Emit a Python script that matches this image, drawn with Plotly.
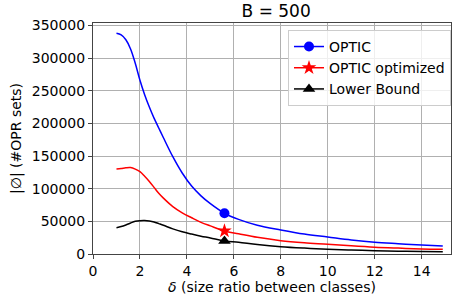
import plotly.graph_objects as go

delta = [1.0, 1.2, 1.4, 1.6, 1.8, 2.0, 2.2, 2.4, 2.6, 2.8, 3.0, 3.4, 3.8, 4.2, 4.6, 5.0,
         5.6, 6.2, 7.0, 8.0, 9.0, 10.0, 11.0, 12.0, 13.0, 14.0, 14.9]
optic = [338000, 335500, 328000, 314000, 292000, 266000, 244000, 225000, 208000, 193000,
         178000, 149000, 124000, 104000, 89000, 77000, 62400, 53000, 44000, 36800, 30500,
         26000, 21500, 18000, 15800, 13800, 12300]
optic_opt = [130300, 131000, 132000, 132300, 130000, 126000, 119000, 111000, 102000, 93000,
             85500, 72500, 63000, 55500, 48500, 43000, 35300, 31000, 25500, 20400, 17200,
             15000, 12500, 10400, 9000, 7800, 7200]
lower = [40300, 42000, 44500, 47500, 50000, 51000, 51200, 50500, 49000, 46500, 44000,
         38500, 34000, 30500, 27300, 24500, 20000, 17900, 14500, 11200, 9000, 7300, 6000,
         5100, 4300, 3800, 3500]
mark_idx = 16

series = [
    ("OPTIC", optic, "#0000ff", "circle", 10),
    ("OPTIC optimized", optic_opt, "#ff0000", "star", 11),
    ("Lower Bound", lower, "#000000", "triangle-up", 11),
]

fig = go.Figure()
for name, ys, col, sym, ms in series:
    fig.add_trace(go.Scatter(x=delta, y=ys, mode="lines", line=dict(color=col, width=1.5, shape="spline"),
                             showlegend=False, legendgroup=name, hoverinfo="skip"))
    fig.add_trace(go.Scatter(x=[delta[mark_idx]], y=[ys[mark_idx]], mode="lines+markers", name=name,
                             legendgroup=name, line=dict(color=col, width=1.5),
                             marker=dict(color=col, symbol=sym, size=ms)))

fig.update_layout(
    width=452, height=296,
    margin=dict(l=93, r=1, t=23, b=42, autoexpand=False),
    plot_bgcolor="white", paper_bgcolor="white",
    font=dict(family="DejaVu Sans", size=14, color="black"),
    title=dict(text="B = 500", x=0.611, xanchor="center", y=0.963, yanchor="middle",
               font=dict(size=17)),
    xaxis=dict(range=[0, 15.25], tickvals=[0, 2, 4, 6, 8, 10, 12, 14], showgrid=True,
               gridcolor="#b0b0b0", gridwidth=1, showline=True, linecolor="#444", linewidth=1,
               mirror=True, ticks="outside", ticklen=4, tickcolor="#444", zeroline=False,
               automargin=False,
               title=dict(text="<i>δ</i> (size ratio between classes)", standoff=2,
                          font=dict(size=14))),
    yaxis=dict(range=[0, 353700], tickvals=[0, 50000, 100000, 150000, 200000, 250000, 300000, 350000],
               ticktext=["0", "50000", "100000", "150000", "200000", "250000", "300000", "350000"],
               showgrid=True, gridcolor="#b0b0b0", gridwidth=1, showline=True, linecolor="#444",
               linewidth=1, mirror=True, ticks="outside", ticklen=4, tickcolor="#444",
               zeroline=False, automargin=False,
               title=dict(text="|∅| (#OPR sets)", standoff=6, font=dict(size=14))),
    legend=dict(x=1.0, xanchor="right", y=0.97, yanchor="top", bgcolor="rgba(255,255,255,0.8)",
                bordercolor="#cccccc", borderwidth=1, font=dict(size=14),
                tracegroupgap=0, itemwidth=30),
)

fig.write_html("out.html", config={"displayModeBar": False},
               post_script="document.body.style.margin='0';document.body.style.overflow='hidden';")
